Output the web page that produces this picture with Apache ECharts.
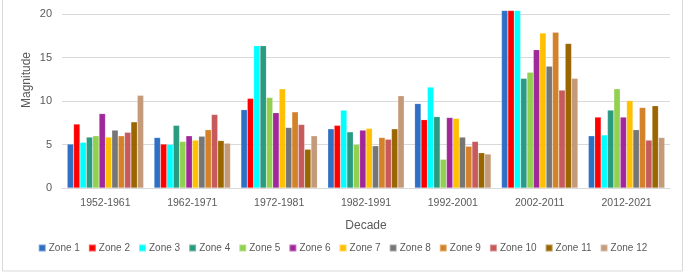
<!DOCTYPE html>
<html><head><meta charset="utf-8">
<script src="https://cdn.jsdelivr.net/npm/echarts@6/dist/echarts.min.js"></script>
<style>html,body{margin:0;padding:0;background:#fff}#c{width:685px;height:275px}</style>
</head><body><div id="c"></div>
<script>
const decades = ['1952-1961','1962-1971','1972-1981','1982-1991','1992-2001','2002-2011','2012-2021'];
const zoneNames = ['Zone 1','Zone 2','Zone 3','Zone 4','Zone 5','Zone 6','Zone 7','Zone 8','Zone 9','Zone 10','Zone 11','Zone 12'];
const zone1  = [5.05, 5.8, 9.0, 6.8, 9.7, 20.4, 6.0];
const zone2  = [7.35, 5.05, 10.3, 7.2, 7.85, 20.4, 8.15];
const zone3  = [5.25, 5.0, 16.35, 8.95, 11.6, 20.4, 6.1];
const zone4  = [5.85, 7.2, 16.35, 6.45, 8.2, 12.6, 8.95];
const zone5  = [6.0, 5.35, 10.4, 5.0, 3.3, 13.3, 11.4];
const zone6  = [8.55, 6.0, 8.65, 6.65, 8.1, 15.9, 8.15];
const zone7  = [5.85, 5.5, 11.4, 6.85, 8.0, 17.8, 10.05];
const zone8  = [6.65, 5.95, 6.95, 4.85, 5.85, 14.0, 6.7];
const zone9  = [6.0, 6.7, 8.75, 5.8, 4.8, 17.9, 9.25];
const zone10 = [6.4, 8.45, 7.3, 5.6, 5.35, 11.25, 5.5];
const zone11 = [7.6, 5.45, 4.45, 6.8, 4.05, 16.6, 9.45];
const zone12 = [10.65, 5.15, 6.0, 10.6, 3.9, 12.6, 5.8];
const yTicks = [0, 5, 10, 15, 20];

const zones = [zone1,zone2,zone3,zone4,zone5,zone6,zone7,zone8,zone9,zone10,zone11,zone12];
const colors = ['#2F6FC4','#FF0000','#00FFFF','#2A9A80','#92D050','#A0289A','#FFC000','#767676','#D4822A','#C65A5C','#996600','#C49A7A'];
const font = '"Liberation Sans", sans-serif';
const grey = '#595959';

const chart = echarts.init(document.getElementById('c'));
chart.setOption({
  animation: false,
  color: colors,
  grid: {left: 62, right: 15, top: 10.5, bottom: 87},
  graphic: [
    {type: 'rect', shape: {x: 2.5, y: -2, width: 680, height: 273}, style: {fill: 'none', stroke: '#D9D9D9', lineWidth: 1}, silent: true, z: -1},
    {type: 'text', x: 27, y: 80, rotation: Math.PI / 2, style: {text: 'Magnitude', fill: grey, font: '12px ' + font, align: 'center', verticalAlign: 'middle'}}
  ],
  xAxis: {
    type: 'category', data: decades,
    name: 'Decade', nameLocation: 'middle', nameGap: 32,
    nameTextStyle: {color: grey, fontSize: 12, fontFamily: font},
    axisLine: {lineStyle: {color: '#D9D9D9'}}, axisTick: {show: false},
    axisLabel: {color: grey, fontSize: 10.5, fontFamily: font, margin: 10}
  },
  yAxis: {
    type: 'value', min: 0, max: 20.4, interval: 5,
    axisLine: {show: false}, axisTick: {show: false},
    axisLabel: {color: grey, fontSize: 11, fontFamily: font, margin: 10, showMaxLabel: false,
      formatter: v => yTicks.includes(v) ? String(v) : ''},
    splitLine: {lineStyle: {color: '#D9D9D9', width: 1}, showMaxLine: false}
  },
  legend: {
    data: zoneNames, bottom: 17, left: 'center',
    itemWidth: 7, itemHeight: 7, itemGap: 8, icon: 'rect',
    textStyle: {color: grey, fontSize: 10, fontFamily: font, padding: [0, 0, 0, -2]}
  },
  series: zones.map((d, i) => ({
    name: zoneNames[i], type: 'bar', data: d,
    barGap: '0%', barCategoryGap: '12%',
    itemStyle: {borderColor: 'rgba(255,255,255,0.35)', borderWidth: 0.5}
  }))
});
</script></body></html>
